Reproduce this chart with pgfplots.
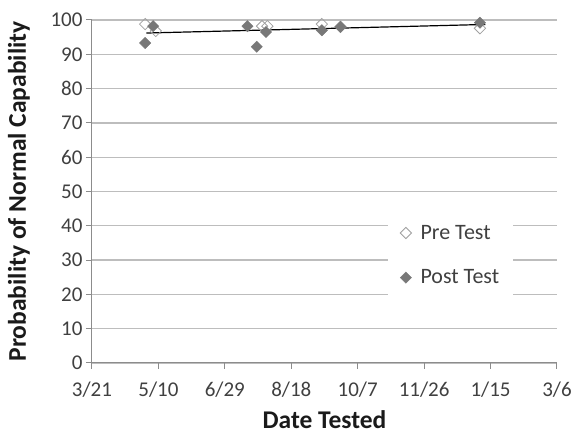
\documentclass[border=0pt]{standalone}
\usepackage{pgfplots}
\pgfplotsset{compat=1.18}
\usepackage{fontspec}
\setmainfont{Carlito}
\definecolor{tickc}{HTML}{404040}
\definecolor{titlec}{HTML}{1A1A1A}
\definecolor{gridc}{HTML}{BDBDBD}
\definecolor{axisc}{HTML}{8C8C8C}
\definecolor{postc}{HTML}{787878}
\definecolor{prec}{HTML}{A0A0A0}
\begin{document}
\begin{tikzpicture}[x=1pt,y=1pt]
\useasboundingbox (0,0) rectangle (574,435);
\begin{axis}[
  at={(92pt,72pt)}, anchor=south west,
  scale only axis, width=465pt, height=343pt,
  xmin=0, xmax=350, ymin=0, ymax=100,
  xtick={0,50,...,350},
  xticklabels={3/21,5/10,6/29,8/18,10/7,11/26,1/15,3/6},
  ytick={0,10,...,100},
  ymajorgrids, grid style={gridc, line width=1.3pt},
  axis x line*=bottom, axis y line*=left,
  axis line style={axisc, line width=1pt, -},
  tick style={axisc, line width=1pt},
  tick align=outside, major tick length=6pt,
  /pgf/number format/assume math mode=true,
  ticklabel style={font=\fontsize{21}{24}\selectfont, text=tickc},
  xticklabel style={yshift=-9pt},
  xlabel={Date Tested}, ylabel={Probability of Normal Capability},
  label style={font=\fontsize{25.5}{28}\selectfont\bfseries, text=titlec, inner sep=1pt},
  xlabel style={at={(axis description cs:0.5,-0.166)}, anchor=center},
  ylabel style={at={(axis description cs:-0.157,0.5)}, anchor=center},
  legend style={at={(axis description cs:0.6366,0.4606)}, anchor=north west,
    draw=none, fill=white, font=\fontsize{22}{24}\selectfont, text=tickc,
    row sep=25pt, column sep=7pt, inner xsep=12pt, inner ysep=18pt},
  legend cell align=left,
]
\addplot[only marks, mark=square, mark size=4pt,
  mark options={rotate=45, draw=prec, fill=white, line width=0.8pt}]
  coordinates {(40,98.8) (48,96.8) (128,98.2) (132,98.2) (173,98.8) (187,98) (292,97.6)};
\addlegendentry{Pre Test}
\addplot[only marks, mark=square*, mark size=4pt,
  mark options={rotate=45, draw=postc, fill=postc}]
  coordinates {(40,93.3) (46,98.2) (117,98.2) (124,92.2) (131,96.5) (173,97) (187,98) (292,99.2)};
\addlegendentry{Post Test}
\addplot[forget plot, black, line width=1.2pt] coordinates {(41,96.2) (296,98.7)};
\end{axis}
\end{tikzpicture}
\end{document}
